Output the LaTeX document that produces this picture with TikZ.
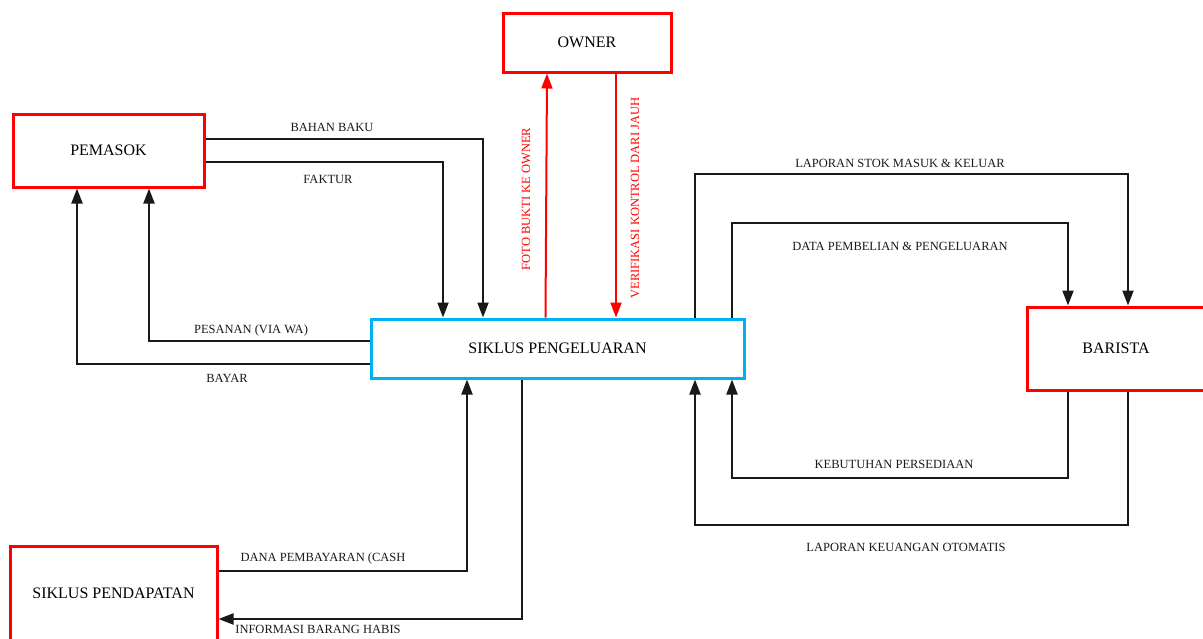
\documentclass[tikz,border=0pt]{standalone}
\usepackage{fontspec}
\setmainfont{Liberation Serif}
\usepackage{tikz}
\usetikzlibrary{arrows.meta}

\definecolor{boxred}{RGB}{255,0,0}
\definecolor{procblue}{RGB}{0,176,240}

\begin{document}
\begin{tikzpicture}[x=1pt,y=-1pt,
	entity/.style={draw=boxred, line width=3pt, fill=white, inner sep=0pt, font=\fontsize{16}{19}\selectfont},
	proc/.style={draw=procblue, line width=3pt, fill=white, inner sep=0pt, font=\fontsize{16}{19}\selectfont},
	flow/.style={draw=black!90, line width=2pt, -{Triangle[length=15pt,width=11pt]}},
	redflow/.style={flow, draw=boxred},
	lbl/.style={font=\fontsize{12.5}{15}\selectfont, inner sep=0pt, text=black!90},
	redlbl/.style={lbl, text=boxred, rotate=90}]
		\useasboundingbox (0,0) rectangle (1203,638);
		\node[entity, minimum width=191pt, minimum height=73pt] (pemasok) at (108.5,150.5) {PEMASOK};
		\node[entity, minimum width=168pt, minimum height=59pt] (owner) at (587,42.5) {OWNER};
		\node[proc, minimum width=373pt, minimum height=59pt] (siklus) at (557.5,348.5) {SIKLUS PENGELUARAN};
		\node[entity, minimum width=178pt, minimum height=83pt] (barista) at (1116,348.5) {BARISTA};
		\node[entity, minimum width=207pt, minimum height=94pt] (pendapatan) at (113.5,593) {SIKLUS PENDAPATAN};

		\draw[flow] ([yshift=11.5pt]pemasok.east) -| ([xshift=-74.5pt]siklus.north);
		\draw[flow] ([yshift=-11.5pt]pemasok.east) -| ([xshift=-114.5pt]siklus.north);
		\draw[flow] ([yshift=7.5pt]siklus.west) -| ([xshift=40.5pt]pemasok.south);
		\draw[flow] ([yshift=-15.5pt]siklus.west) -| ([xshift=-31.5pt]pemasok.south);
		\draw[redflow] ([xshift=-12pt]siklus.north) -- ([xshift=-40pt]owner.south);
		\draw[redflow] ([xshift=29pt]owner.south) -- ([xshift=58.5pt]siklus.north);
		\draw[flow] ([xshift=137.5pt]siklus.north) -- ++(0,-144) -| ([xshift=12pt]barista.north);
		\draw[flow] ([xshift=174.5pt]siklus.north) -- ++(0,-95) -| ([xshift=-48pt]barista.north);
		\draw[flow] ([xshift=-48pt]barista.south) -- ++(0,86) -| ([xshift=174.5pt]siklus.south);
		\draw[flow] ([xshift=12pt]barista.south) -- ++(0,133) -| ([xshift=137.5pt]siklus.south);
		\draw[flow] ([yshift=22pt]pendapatan.east) -| ([xshift=-90.5pt]siklus.south);
		\draw[flow] ([xshift=-35.5pt]siklus.south) |- ([yshift=-26pt]pendapatan.east);

		\node[lbl] (lbahan) at (332,127) {BAHAN BAKU};
		\node[lbl] (lfaktur) at (328,179) {FAKTUR};
		\node[lbl] (lpesan) at (251,330) {PESANAN (VIA WA)};
		\node[lbl] (lbayar) at (227,378) {BAYAR};
		\node[redlbl] (lfoto) at (526,199) {FOTO BUKTI KE OWNER};
		\node[redlbl] (lverif) at (635,198) {VERIFIKASI KONTROL DARI JAUH};
		\node[lbl] (lstok) at (900,163) {LAPORAN STOK MASUK \& KELUAR};
		\node[lbl] (ldata) at (900,246) {DATA PEMBELIAN \& PENGELUARAN};
		\node[lbl] (lbutuh) at (894,464) {KEBUTUHAN PERSEDIAAN};
		\node[lbl] (luang) at (906,547) {LAPORAN KEUANGAN OTOMATIS};
		\node[lbl] (ldana) at (323,558) {DANA PEMBAYARAN (CASH};
		\node[lbl] (linfo) at (318,629) {INFORMASI BARANG HABIS};
\end{tikzpicture}
\end{document}
